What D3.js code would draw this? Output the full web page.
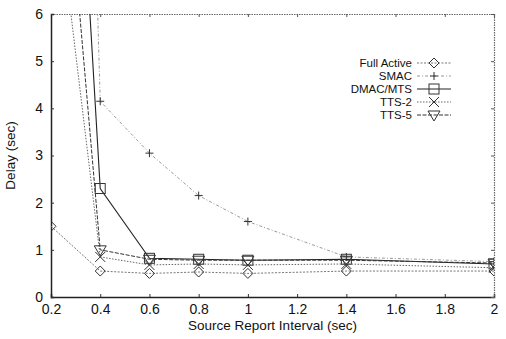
<!DOCTYPE html>
<html><head><meta charset="utf-8">
<script src="https://cdn.jsdelivr.net/npm/d3@7"></script>
<style>body{margin:0;background:#fff}svg{display:block}text{font-family:"Liberation Sans",Arial,sans-serif;fill:#111}</style>
</head><body>
<script>
const intervals = [0.2, 0.4, 0.6, 0.8, 1.0, 1.4, 2.0];
const fullActive = [1.5, 0.55, 0.5, 0.53, 0.5, 0.55, 0.55];
const smac = [40, 4.15, 3.05, 2.15, 1.6, 0.85, 0.75];
const dmac = [20, 2.3, 0.82, 0.8, 0.78, 0.8, 0.7];
const tts2 = [9.5, 0.85, 0.68, 0.7, 0.68, 0.7, 0.62];
const tts5 = [13, 1.0, 0.8, 0.78, 0.78, 0.78, 0.72];
const seriesNames = ["Full Active", "SMAC", "DMAC/MTS", "TTS-2", "TTS-5"];
const xTicks = [0.2, 0.4, 0.6, 0.8, 1, 1.2, 1.4, 1.6, 1.8, 2];
const yTicks = [0, 1, 2, 3, 4, 5, 6];

const series = [
  {name: seriesNames[0], vals: fullActive, marker: "diamond", stroke: "#777", dash: "2,1.5", w: 1},
  {name: seriesNames[1], vals: smac, marker: "plus", stroke: "#999", dash: "3,2,1,2", w: 1},
  {name: seriesNames[2], vals: dmac, marker: "square", stroke: "#222", dash: null, w: 1.1},
  {name: seriesNames[3], vals: tts2, marker: "cross", stroke: "#666", dash: "1.5,1.5", w: 1},
  {name: seriesNames[4], vals: tts5, marker: "tri", stroke: "#333", dash: "4,1.5", w: 1}
];

const W = 506, H = 339;
const m = {l: 51, r: 12, t: 14, b: 42};
const svg = d3.select("body").append("svg").attr("width", W).attr("height", H);
const x = d3.scaleLinear().domain([0.2, 2]).range([m.l, W - m.r]);
const y = d3.scaleLinear().domain([0, 6]).range([H - m.b, m.t]);

svg.append("clipPath").attr("id", "c").append("rect")
  .attr("x", m.l).attr("y", m.t).attr("width", W - m.r - m.l).attr("height", H - m.b - m.t);

// axes
const xa = svg.append("g").attr("transform", `translate(0,${H - m.b})`)
  .call(d3.axisBottom(x).tickValues(xTicks).tickSize(-3).tickPadding(7).tickFormat(d3.format("")));
const xt = svg.append("g").attr("transform", `translate(0,${m.t})`)
  .call(d3.axisTop(x).tickValues(xTicks).tickSize(-3).tickFormat(""));
const ya = svg.append("g").attr("transform", `translate(${m.l},0)`)
  .call(d3.axisLeft(y).tickValues(yTicks).tickSize(-3).tickPadding(8).tickFormat(d3.format("d")));
const yr = svg.append("g").attr("transform", `translate(${W - m.r},0)`)
  .call(d3.axisRight(y).tickValues(yTicks).tickSize(-3).tickFormat(""));
[xa, ya].forEach(g => {
  g.select(".domain").attr("stroke", "#222").attr("stroke-width", 1.5);
  g.selectAll(".tick line").attr("stroke", "#333");
  g.selectAll("text").style("font-size", "14px").attr("fill", "#111");
});
[xt, yr].forEach(g => {
  g.select(".domain").attr("stroke", "#666").attr("stroke-dasharray", "1.5,1").attr("stroke-width", 1.2);
  g.selectAll(".tick line").attr("stroke", "#555");
});

svg.append("text").attr("x", (m.l + W - m.r) / 2).attr("y", H - 9)
  .attr("text-anchor", "middle").style("font-size", "13.5px").text("Source Report Interval (sec)");
svg.append("text").attr("transform", `translate(15,${(m.t + H - m.b) / 2}) rotate(-90)`)
  .attr("text-anchor", "middle").style("font-size", "13.5px").text("Delay (sec)");

function drawMarker(g, type, cx, cy, col) {
  const s = 5;
  if (type === "diamond") g.append("path").attr("d", `M${cx},${cy - s}L${cx + s},${cy}L${cx},${cy + s}L${cx - s},${cy}Z`);
  else if (type === "plus") g.append("path").attr("d", `M${cx - 4},${cy}H${cx + 4}M${cx},${cy - 4}V${cy + 4}`);
  else if (type === "square") g.append("rect").attr("x", cx - 5).attr("y", cy - 5).attr("width", 10).attr("height", 10);
  else if (type === "cross") g.append("path").attr("d", `M${cx - 5},${cy - 5}L${cx + 5},${cy + 5}M${cx - 5},${cy + 5}L${cx + 5},${cy - 5}`);
  else if (type === "tri") g.append("path").attr("d", `M${cx - 6},${cy - 4}L${cx + 6},${cy - 4}L${cx},${cy + 6}Z`);
  g.selectAll("*").attr("fill", "none").attr("stroke", col).attr("stroke-width", 1);
}

const plot = svg.append("g").attr("clip-path", "url(#c)");
const line = d3.line().x((d, i) => x(intervals[i])).y(d => y(d));
series.forEach(s => {
  plot.append("path").datum(s.vals).attr("d", line).attr("fill", "none")
    .attr("stroke", s.stroke).attr("stroke-width", s.w).attr("stroke-dasharray", s.dash);
  s.vals.forEach((v, i) => {
    if (v <= 6) drawMarker(plot.append("g"), s.marker, x(intervals[i]), y(v), "#333");
  });
});

// legend
const lg = svg.append("g");
series.forEach((s, i) => {
  const ly = 63 + i * 13;
  lg.append("text").attr("x", 412).attr("y", ly + 4.2).attr("text-anchor", "end")
    .style("font-size", "11.5px").text(s.name);
  lg.append("line").attr("x1", 417).attr("x2", 451).attr("y1", ly).attr("y2", ly)
    .attr("stroke", s.stroke).attr("stroke-width", s.w).attr("stroke-dasharray", s.dash);
  drawMarker(lg.append("g"), s.marker, 434, ly, "#333");
});
</script>
</body></html>
